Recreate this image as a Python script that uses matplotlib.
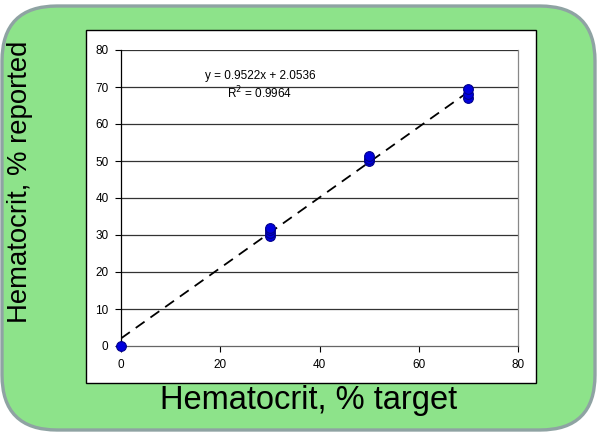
import numpy as np
import matplotlib
matplotlib.use("Agg")
import matplotlib.pyplot as plt
from matplotlib.patches import FancyBboxPatch, Rectangle

plt.rcParams['font.family'] = ['Liberation Sans', 'DejaVu Sans']

# Data
x_target = [0, 30, 30, 30, 30, 50, 50, 50, 70, 70, 70]
y_reported = [0, 29.8, 30.6, 31.3, 32.0, 49.9, 50.6, 51.3, 67.0, 68.0, 69.5]
slope = 0.9522
intercept = 2.0536
r_squared = 0.9964
x_ticks = [0, 20, 40, 60, 80]
y_ticks = [0, 10, 20, 30, 40, 50, 60, 70, 80]

W, H = 599, 433
fig = plt.figure(figsize=(W / 100, H / 100), dpi=100)
fig.patch.set_facecolor('white')

# Background layer in pixel coordinates
bg = fig.add_axes([0, 0, 1, 1])
bg.set_xlim(0, W)
bg.set_ylim(H, 0)
bg.axis('off')
bg.set_zorder(0)
panel = FancyBboxPatch((2, 6), 593, 424,
                       boxstyle="round,pad=0,rounding_size=55",
                       facecolor='#8de38a', edgecolor='#8fa3a3',
                       linewidth=2.4)
bg.add_patch(panel)
inner = Rectangle((86, 30), 450, 353, facecolor='white',
                  edgecolor='black', linewidth=1.0)
bg.add_patch(inner)
bg.text(309, 400, "Hematocrit, % target", ha='center', va='center',
        fontsize=23.5)
bg.text(20, 182, "Hematocrit, % reported", ha='center', va='center',
        rotation=90, fontsize=19.8)

ax = fig.add_axes([121 / W, 1 - 346 / H, (518 - 121) / W, (346 - 50) / H])
ax.set_zorder(5)
ax.set_facecolor('white')
ax.set_xlim(0, 80)
ax.set_ylim(0, 80)

for yv in y_ticks[1:]:
    ax.axhline(yv, color='#333333', linewidth=0.9, zorder=1)

xl = np.array([0, 70])
ax.plot(xl, slope * xl + intercept, linestyle=(0, (6, 4)), color='black',
        linewidth=1.3, zorder=2)
ax.plot(x_target, y_reported, 'o', color='#0000dd', markeredgecolor='#00008b',
        markersize=7, markeredgewidth=0.8, zorder=3, clip_on=False)

ax.set_xticks(x_ticks)
ax.set_yticks(y_ticks)
ax.tick_params(axis='both', labelsize=8.5, length=4, width=0.8, color='black',
               pad=5)
ax.spines['top'].set_visible(False)
ax.spines['left'].set_color('black')
ax.spines['left'].set_linewidth(0.9)
ax.spines['right'].set_color('#888888')
ax.spines['right'].set_linewidth(0.9)
ax.spines['bottom'].set_color('#666666')
ax.spines['bottom'].set_linewidth(0.9)

ax.text(28, 73, f"y = {slope}x + {intercept}", ha='center', va='center',
        fontsize=8.5)
ax.text(28, 68.3, f"R$^2$ = {r_squared}", ha='center', va='center',
        fontsize=8.5)

fig.savefig('out.png', dpi=100, facecolor='white')
